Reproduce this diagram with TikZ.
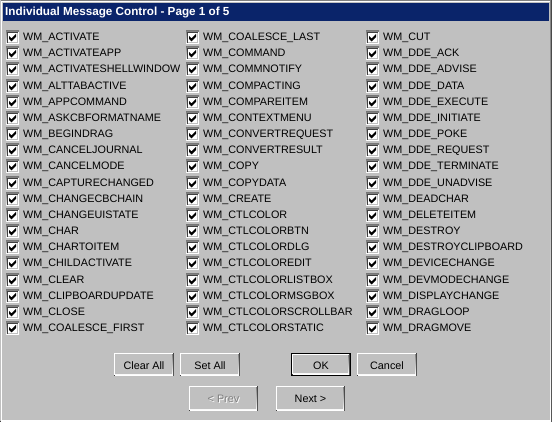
\documentclass[tikz,border=0pt]{standalone}
\usepackage{fontspec}
\setmainfont{Liberation Sans}
\definecolor{face}{HTML}{C0C0C0}
\definecolor{shade}{HTML}{808080}
\definecolor{dark}{HTML}{404040}
\definecolor{titlebg}{HTML}{0A246A}
\tikzset{
  lbl/.style={anchor=base west, inner sep=0pt, font=\fontsize{10.8}{12}\selectfont, text=black},
  btnlbl/.style={anchor=base, inner sep=0pt, font=\fontsize{10.8}{12}\selectfont, text=black},
  titlelbl/.style={anchor=base west, inner sep=0pt, font=\bfseries\fontsize{11.7}{13}\selectfont, text=white},
  chk/.pic={
    \fill[shade] (0,0) rectangle (13,13);
    \fill[white] (1,1) rectangle (13,13);
    \fill[dark] (1,1) rectangle (12,12);
    \fill[face] (2,2) rectangle (12,12);
    \fill[white] (2,2) rectangle (11,11);
    \fill[black] (3,5) -- (5.5,7.5) -- (10,3) -- (10,6) -- (5.5,10.5) -- (3,8) -- cycle;
  }
}
\newcommand\winbtn[5]{% x1 y1 x2 y2
  \fill[dark] (#1,#2) rectangle (#3,#4);
  \fill[white] (#1,#2) rectangle ({#3-1},{#4-1});
  \fill[shade] ({#1+1},{#2+1}) rectangle ({#3-1},{#4-1});
  \fill[face] ({#1+1},{#2+1}) rectangle ({#3-2},{#4-2});
}
\begin{document}
\begin{tikzpicture}[x=1pt,y=-1pt]
\useasboundingbox (0,0) rectangle (552,422);
% window frame
\fill[dark] (0,0) rectangle (552,422);
\fill[face] (0,0) rectangle (551,421);
\fill[shade] (1,1) rectangle (551,421);
\fill[white] (1,1) rectangle (550,420);
\fill[face] (2,2) rectangle (550,420);
% title bar
\fill[titlebg] (3,3) rectangle (549,21);
\node[titlelbl] (title) at (5,16) {Individual Message Control - Page 1 of 5};
% column 1
\foreach [count=\i from 0] \t in {WM\_ACTIVATE,WM\_ACTIVATEAPP,WM\_ACTIVATESHELLWINDOW,WM\_ALTTABACTIVE,WM\_APPCOMMAND,WM\_ASKCBFORMATNAME,WM\_BEGINDRAG,WM\_CANCELJOURNAL,WM\_CANCELMODE,WM\_CAPTURECHANGED,WM\_CHANGECBCHAIN,WM\_CHANGEUISTATE,WM\_CHAR,WM\_CHARTOITEM,WM\_CHILDACTIVATE,WM\_CLEAR,WM\_CLIPBOARDUPDATE,WM\_CLOSE,WM\_COALESCE\_FIRST}{
  \pgfmathsetmacro\yy{round(31+16.17*\i)}
  \pic at (6,\yy) {chk};
  \node[lbl] (a\i) at (23,\yy+10) {\t};
}
% column 2
\foreach [count=\i from 0] \t in {WM\_COALESCE\_LAST,WM\_COMMAND,WM\_COMMNOTIFY,WM\_COMPACTING,WM\_COMPAREITEM,WM\_CONTEXTMENU,WM\_CONVERTREQUEST,WM\_CONVERTRESULT,WM\_COPY,WM\_COPYDATA,WM\_CREATE,WM\_CTLCOLOR,WM\_CTLCOLORBTN,WM\_CTLCOLORDLG,WM\_CTLCOLOREDIT,WM\_CTLCOLORLISTBOX,WM\_CTLCOLORMSGBOX,WM\_CTLCOLORSCROLLBAR,WM\_CTLCOLORSTATIC}{
  \pgfmathsetmacro\yy{round(31+16.17*\i)}
  \pic at (186,\yy) {chk};
  \node[lbl] (b\i) at (203,\yy+10) {\t};
}
% column 3
\foreach [count=\i from 0] \t in {WM\_CUT,WM\_DDE\_ACK,WM\_DDE\_ADVISE,WM\_DDE\_DATA,WM\_DDE\_EXECUTE,WM\_DDE\_INITIATE,WM\_DDE\_POKE,WM\_DDE\_REQUEST,WM\_DDE\_TERMINATE,WM\_DDE\_UNADVISE,WM\_DEADCHAR,WM\_DELETEITEM,WM\_DESTROY,WM\_DESTROYCLIPBOARD,WM\_DEVICECHANGE,WM\_DEVMODECHANGE,WM\_DISPLAYCHANGE,WM\_DRAGLOOP,WM\_DRAGMOVE}{
  \pgfmathsetmacro\yy{round(31+16.17*\i)}
  \pic at (366,\yy) {chk};
  \node[lbl] (c\i) at (383,\yy+10) {\t};
}
% buttons
\winbtn{114}{353}{174}{376}{}
\node[btnlbl] (clearall) at (144,369) {Clear All};
\winbtn{180}{353}{240}{376}{}
\node[btnlbl] (setall) at (210,369) {Set All};
\fill[black] (291,353) rectangle (351,376);
\winbtn{292}{354}{350}{375}{}
\node[btnlbl] (ok) at (321,369) {OK};
\winbtn{357}{353}{417}{376}{}
\node[btnlbl] (cancel) at (387,369) {Cancel};
\winbtn{189}{386}{258}{411}{}
\node[btnlbl, text=white] (prevshadow) at (224.5,403.5) {< Prev};
\node[btnlbl, text=shade] (prev) at (223.5,402.5) {< Prev};
\winbtn{276}{386}{345}{411}{}
\node[btnlbl] (next) at (310.5,402.5) {Next >};
\end{tikzpicture}
\end{document}
